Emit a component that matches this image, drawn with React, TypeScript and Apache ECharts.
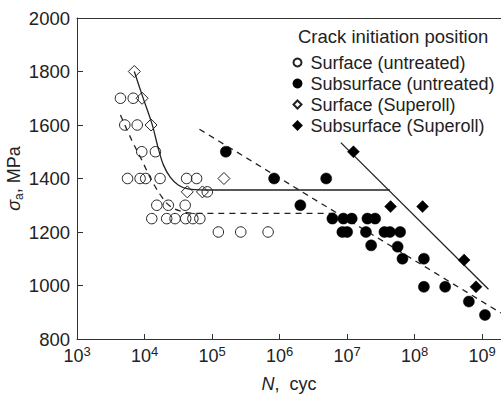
import React, { useEffect, useRef } from "react";
import * as echarts from "echarts";

// ---- data (N in cycles, sigma_a in MPa) ----
const surfUntreatedN = [4.4e3, 6.8e3, 5.1e3, 7.8e3, 9.1e3, 1.45e4, 5.6e3, 8.6e3, 1.04e4, 1.7e4, 4.2e4, 5.9e4, 1.52e4, 2.25e4, 4.0e4, 1.28e4, 2.13e4, 2.83e4, 4.07e4, 5.2e4, 6.6e4, 8.5e4, 1.24e5, 2.66e5, 6.76e5];
const surfUntreatedS = [1700, 1700, 1600, 1600, 1500, 1500, 1400, 1400, 1400, 1400, 1400, 1400, 1300, 1300, 1300, 1250, 1250, 1250, 1250, 1250, 1250, 1350, 1200, 1200, 1200];

const subUntreatedN = [1.6e5, 8.3e5, 4.9e6, 2.03e6, 6.05e6, 8.8e6, 1.17e7, 2.0e7, 2.6e7, 8.5e6, 1.0e7, 1.9e7, 3.57e7, 4.3e7, 6.1e7, 2.27e7, 5.6e7, 6.6e7, 1.37e8, 1.37e8, 2.83e8, 6.35e8, 1.1e9];
const subUntreatedS = [1500, 1400, 1400, 1300, 1250, 1250, 1250, 1250, 1250, 1200, 1200, 1200, 1200, 1200, 1200, 1150, 1145, 1100, 1100, 995, 995, 940, 890];

const surfSuperollN = [7.06e3, 9.2e3, 1.25e4, 1.5e5, 4.3e4, 7.2e4];
const surfSuperollS = [1800, 1700, 1600, 1400, 1350, 1350];

const subSuperollN = [1.24e7, 4.4e7, 1.31e8, 5.4e8, 8.1e8];
const subSuperollS = [1500, 1295, 1295, 1095, 995];

// fitted curves
const fitSurfSuperollN = [7.06e3, 9.4e3, 1.29e4, 1.62e4, 1.91e4, 2.4e4, 3.15e4, 4.4e4, 7.9e4, 4.3e7];
const fitSurfSuperollS = [1800, 1705, 1604, 1507, 1450, 1405, 1376, 1361, 1357, 1357];

const fitSurfUntreatedN = [4.4e3, 6.45e3, 9.1e3, 1.27e4, 1.8e4, 2.37e4, 3.35e4, 5.1e4, 6.6e6];
const fitSurfUntreatedS = [1637, 1544, 1469, 1394, 1331, 1297, 1279, 1270, 1270];

const fitSubSuperollN = [8.07e6, 1.24e9];
const fitSubSuperollS = [1534, 986];

const fitSubUntreatedN = [6.5e4, 1.9e9];
const fitSubUntreatedS = [1584, 897];

const xTicks = [1e3, 1e4, 1e5, 1e6, 1e7, 1e8, 1e9];
const yTicks = [800, 1000, 1200, 1400, 1600, 1800, 2000];

const legendNames = [
  "Surface (untreated)",
  "Subsurface (untreated)",
  "Surface (Superoll)",
  "Subsurface (Superoll)",
];

const FONT = "'Liberation Sans', Arial, sans-serif";
const INK = "#222";

const zip = (a: number[], b: number[]) => a.map((v, i) => [v, b[i]]);

export default function App() {
  const ref = useRef<HTMLDivElement>(null);
  useEffect(() => {
    if (!ref.current) return;
    const chart = echarts.init(ref.current, undefined, { renderer: "svg" });
    const open = { color: "rgba(255,255,255,0)", borderColor: INK, borderWidth: 1, opacity: 1 };
    const filled = { color: "#000", borderColor: "#000", borderWidth: 0.5, opacity: 1 };
    const lineBase = (dashed: boolean, n: number[], s: number[], smooth: number | boolean) => ({
      type: "line",
      data: zip(n, s),
      showSymbol: false,
      symbol: "none",
      smooth,
      silent: true,
      lineStyle: { color: INK, width: 1.3, type: dashed ? [6, 5] : "solid" },
      z: 1,
    });
    const option: any = {
      animation: false,
      textStyle: { fontFamily: FONT },
      title: {
        text: "Crack initiation position",
        left: 293,
        top: 22,
        textStyle: { fontSize: 18.5, fontWeight: "normal", color: INK, fontFamily: FONT },
      },
      legend: {
        orient: "vertical",
        left: 287.5,
        top: 47,
        itemWidth: 8,
        itemHeight: 8,
        itemGap: 0,
        data: legendNames,
        textStyle: { fontSize: 18, color: INK, lineHeight: 21, fontFamily: FONT, padding: [0, 0, 0, 4] },
      },
      grid: { left: 77, right: 0, top: 18, bottom: 57, outerBoundsMode: "none", containLabel: false },
      xAxis: [
        {
          type: "log",
          logBase: 10,
          min: 1e3,
          max: 1.9e9,
          axisLine: { show: true, lineStyle: { color: "#333", width: 1 } },
          axisTick: { show: true, inside: true, length: 5, customValues: xTicks, lineStyle: { color: "#333" } },
          axisLabel: {
            customValues: xTicks,
            color: INK,
            fontSize: 18,
            lineHeight: 22,
            margin: 6,
            fontFamily: FONT,
            formatter: (v: number) => "10{s|" + Math.round(Math.log10(v)) + "}",
            rich: { s: { fontSize: 13, lineHeight: 12, verticalAlign: "top", color: INK, fontFamily: FONT } },
          },
          splitLine: { show: false },
          minorTick: { show: false },
          name: "{i|N},  cyc",
          nameLocation: "middle",
          nameGap: 36,
          nameMoveOverlap: false,
          nameTextStyle: {
            fontSize: 18,
            color: INK,
            fontFamily: FONT,
            rich: { i: { fontStyle: "italic", fontSize: 18, color: INK, fontFamily: FONT } },
          },
        },
        {
          type: "log",
          logBase: 10,
          min: 1e3,
          max: 1.9e9,
          position: "top",
          axisLine: { show: true, lineStyle: { color: "#333", width: 1 } },
          axisTick: { show: false },
          axisLabel: { show: false },
          splitLine: { show: false },
        },
      ],
      yAxis: {
        type: "value",
        min: 800,
        max: 2000,
        interval: 200,
        axisLine: { show: true, lineStyle: { color: "#333", width: 1 } },
        axisTick: { show: true, inside: true, length: 6, customValues: yTicks, lineStyle: { color: "#333" } },
        axisLabel: {
          color: INK,
          fontSize: 18.5,
          margin: 7,
          fontFamily: FONT,
          formatter: (v: number) => String(v),
        },
        splitLine: { show: false },
        name: "{i|σ}{sub|a}, MPa",
        nameLocation: "middle",
        nameRotate: 90,
        nameGap: 52,
        nameMoveOverlap: false,
        nameTextStyle: {
          fontSize: 18,
          color: INK,
          fontFamily: FONT,
          lineHeight: 22,
          rich: {
            i: { fontStyle: "italic", fontSize: 18, lineHeight: 22, color: INK, fontFamily: FONT },
            sub: { fontSize: 12, lineHeight: 12, verticalAlign: "bottom", color: INK, fontFamily: FONT },
          },
        },
      },
      series: [
        lineBase(false, fitSurfSuperollN, fitSurfSuperollS, 0.35),
        lineBase(true, fitSurfUntreatedN, fitSurfUntreatedS, 0.35),
        lineBase(false, fitSubSuperollN, fitSubSuperollS, false),
        lineBase(true, fitSubUntreatedN, fitSubUntreatedS, false),
        {
          name: legendNames[0],
          type: "scatter",
          symbol: "circle",
          symbolSize: 10.5,
          data: zip(surfUntreatedN, surfUntreatedS),
          itemStyle: open,
          z: 3,
        },
        {
          name: legendNames[1],
          type: "scatter",
          symbol: "circle",
          symbolSize: 11,
          data: zip(subUntreatedN, subUntreatedS),
          itemStyle: filled,
          z: 3,
        },
        {
          name: legendNames[2],
          type: "scatter",
          symbol: "diamond",
          symbolSize: 12,
          data: zip(surfSuperollN, surfSuperollS),
          itemStyle: open,
          z: 3,
        },
        {
          name: legendNames[3],
          type: "scatter",
          symbol: "diamond",
          symbolSize: 12,
          data: zip(subSuperollN, subSuperollS),
          itemStyle: filled,
          z: 3,
        },
      ],
    };
    chart.setOption(option);
    return () => chart.dispose();
  }, []);
  return (
    <div
      ref={ref}
      style={{ position: "absolute", left: 0, top: 0, width: 501, height: 396, background: "#fff" }}
    />
  );
}
